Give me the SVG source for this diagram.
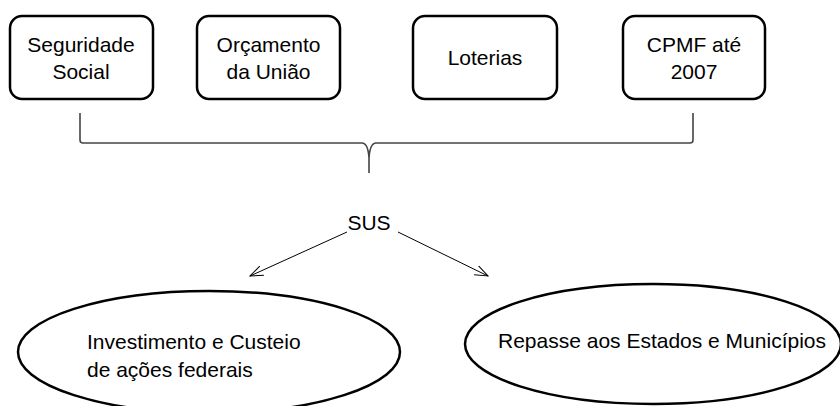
<svg xmlns="http://www.w3.org/2000/svg" width="840" height="406" viewBox="0 0 840 406">
<style>
.box{fill:#fff;stroke:#000;stroke-width:2.5}
.t{font-family:"Liberation Sans",Arial,sans-serif;font-size:21px;fill:#000}
.m{text-anchor:middle}
.c{fill:none;stroke:#000;stroke-width:1}
.br{fill:none;stroke:#444;stroke-width:1.6}
</style>
<defs>
<marker id="ah" markerWidth="14" markerHeight="12" refX="13" refY="6" orient="auto" markerUnits="userSpaceOnUse">
<path d="M0,1 L13,6 L0,11" fill="none" stroke="#000" stroke-width="1"/>
</marker>
</defs>
<rect width="840" height="406" fill="#fff"/>
<g id="seguridade">
<rect class="box" x="10" y="16" width="143" height="83" rx="12"/>
<text class="t m" x="81" y="52">Seguridade</text>
<text class="t m" x="81" y="79">Social</text>
</g>
<g id="orcamento">
<rect class="box" x="197" y="16" width="143" height="83" rx="12"/>
<text class="t m" x="268.5" y="52">Orçamento</text>
<text class="t m" x="268.5" y="79">da União</text>
</g>
<g id="loterias">
<rect class="box" x="413" y="16" width="144" height="83" rx="12"/>
<text class="t m" x="485" y="65">Loterias</text>
</g>
<g id="cpmf">
<rect class="box" x="623" y="16" width="142" height="83" rx="12"/>
<text class="t m" x="694" y="52">CPMF até</text>
<text class="t m" x="694" y="79">2007</text>
</g>
<g id="connectors">
<path class="br" d="M80,113 L80,140 Q80,143 83,143 L362,143 Q368,143 369,158 L369,173 M369,158 Q370,143 376,143 L690,143 Q693,143 693,140 L693,113"/>
<line class="c" x1="347" y1="232" x2="250" y2="276" marker-end="url(#ah)"/>
<line class="c" x1="398" y1="232" x2="488" y2="276" marker-end="url(#ah)"/>
</g>
<g id="sus">
<text class="t m" x="369" y="230">SUS</text>
</g>
<g id="investimento">
<ellipse class="box" cx="209" cy="352" rx="191" ry="61"/>
<text class="t" x="87" y="349">Investimento e Custeio</text>
<text class="t" x="87" y="377">de ações federais</text>
</g>
<g id="repasse">
<ellipse class="box" cx="653" cy="344" rx="188" ry="60"/>
<text class="t m" x="662" y="348">Repasse aos Estados e Municípios</text>
</g>
</svg>
